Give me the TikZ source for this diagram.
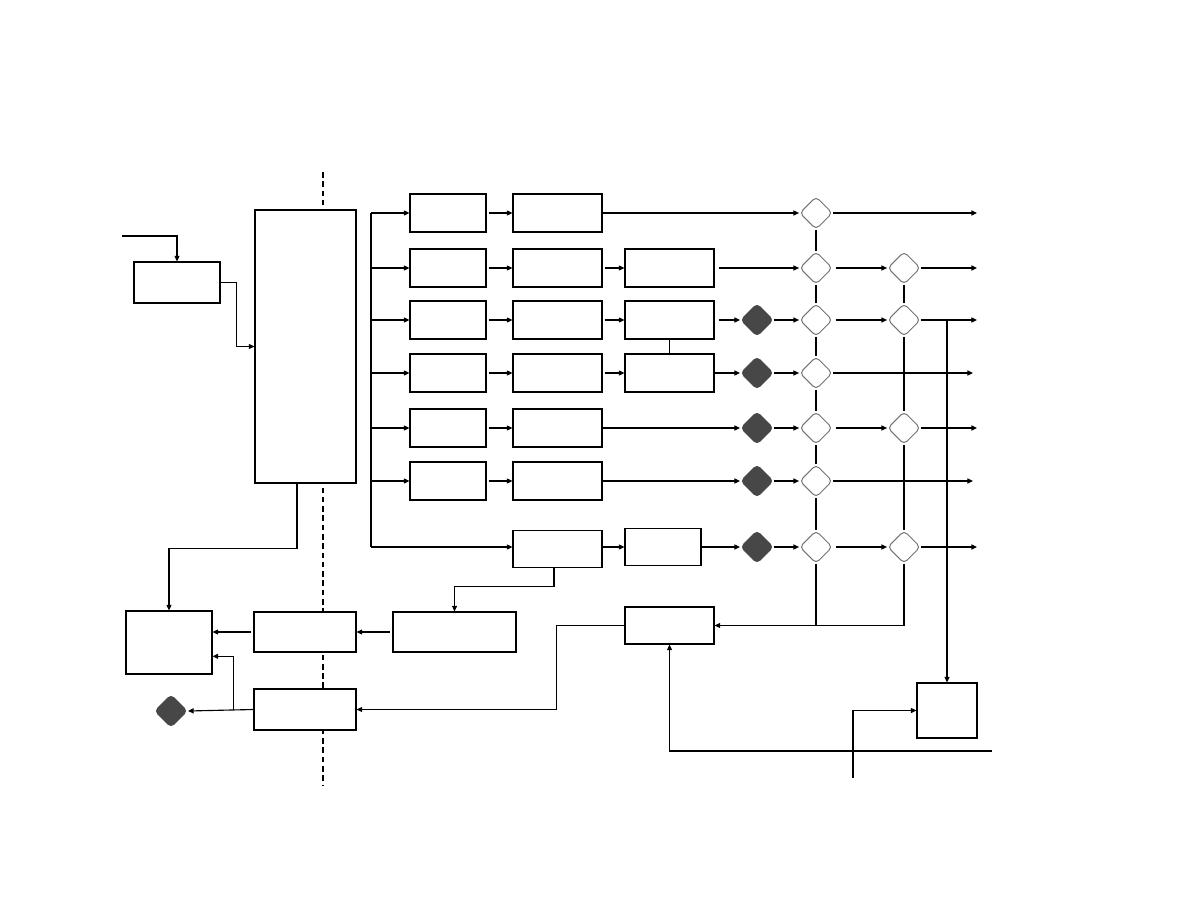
\documentclass[tikz,border=0pt]{standalone}
\usetikzlibrary{arrows.meta,shapes.geometric,calc}
\begin{document}
\begin{tikzpicture}[x=0.025cm, y=-0.025cm, line width=0.8pt,
  >={Triangle[length=4pt,width=3.6pt]},
  blk/.style={draw, rectangle, fill=white, inner sep=0pt},
  wdia/.style={draw=black!55, line width=0.7pt, fill=white, diamond, inner sep=0pt, minimum width=0.82cm, minimum height=0.82cm, rounded corners=3pt},
  kdia/.style={draw=black!72, fill=black!72, diamond, inner sep=0pt, minimum width=0.82cm, minimum height=0.82cm, rounded corners=3pt},
  divider/.style={line width=2pt, dash pattern=on 4pt off 2.6pt},
  gap/.style={shorten <=1.5pt}]

\useasboundingbox (0,0) rectangle (1188,918);

% Trennlinie
\coordinate (sepTop) at (323,172);
\coordinate (sepBot) at (323,785);
\draw[divider] (sepTop) -- (sepBot);

% Bloecke links
\node[blk, minimum width=2.15cm, minimum height=1.025cm] (src) at (177,282.5) {};
\node[blk, minimum width=2.525cm, minimum height=6.825cm] (main) at (305.5,346.5) {};
\node[blk, minimum width=2.15cm, minimum height=1.575cm] (sink) at (169,642.5) {};
\node[blk, minimum width=2.55cm, minimum height=1.0cm] (mid) at (305,632) {};
\node[blk, minimum width=2.55cm, minimum height=1.025cm] (ret) at (305,709.5) {};
\node[blk, minimum width=3.075cm, minimum height=1.0cm] (buf) at (454.5,632) {};
\node[kdia] (ldia) at (171,711) {};

% Zweige
\foreach \i/\y in {1/213,2/268,3/320,4/373,5/428,6/481} {
  \node[blk, minimum width=1.9cm, minimum height=0.95cm] (C\i) at (448,\y) {};
  \node[blk, minimum width=2.225cm, minimum height=0.95cm] (D\i) at (557.5,\y) {};
}
\foreach \i/\y in {2/268,3/320,4/373}
  \node[blk, minimum width=2.225cm, minimum height=0.95cm] (E\i) at (669.5,\y) {};
\node[blk, minimum width=2.225cm, minimum height=0.925cm] (D7) at (557.5,549) {};
\node[blk, minimum width=1.9cm, minimum height=0.925cm] (E7) at (663,547) {};

% Rauten
\foreach \i/\y in {3/320,4/373,5/428,6/481,7/547}
  \node[kdia] (k\i) at (757,\y) {};
\foreach \i/\y in {1/213,2/268,3/320,4/373,5/428,6/481,7/547}
  \node[wdia] (W\i) at (816,\y) {};
\foreach \i/\y in {2/268,3/320,5/428,7/547}
  \node[wdia] (V\i) at (904,\y) {};

% Bloecke rechts unten
\node[blk, minimum width=2.225cm, minimum height=0.925cm] (mix) at (669.5,625.5) {};
\node[blk, minimum width=1.5cm, minimum height=1.375cm] (tap) at (947,710.5) {};

% Eingang
\coordinate (in) at (122,236);
\draw[->] (in) -| (src.north);
\draw[->] (src.east) -- ++(16,0) |- (main.west);

% Verteiler
\coordinate (bus) at (371,0);
\draw (bus |- C1) -- (bus |- E7);
\foreach \i in {1,...,6} {
  \draw[->] (bus |- C\i) -- (C\i.west);
  \draw[->, gap] (C\i.east) -- (D\i.west);
}
\draw[->] (bus |- E7) -- (D7.west |- E7);
\foreach \i in {2,3,4}
  \draw[->, gap] (D\i.east) -- (E\i.west);
\draw[->] (D7.east |- E7) -- (E7.west);
\draw (E3.south) -- (E4.north);

% zu den Rauten
\draw[->] (D1.east) -- (W1.west);
\draw[->, shorten <=3pt] (E2.east) -- (W2.west);
\draw[->, shorten <=3pt] (E3.east) -- (k3.west);
\draw[->] (E4.east) -- (k4.west);
\draw[->] (D5.east) -- (k5.west);
\draw[->] (D6.east) -- (k6.west);
\draw[->] (E7.east) -- (k7.west);
\foreach \i in {3,...,7}
  \draw[->] (k\i.east) -- (W\i.west);

% Sammelleitungen
\foreach \i/\j in {1/2,2/3,3/4,4/5,5/6,6/7}
  \draw (W\i.south) -- (W\j.north);
\draw (V2.south) -- (V3.north);
\draw (V3.south) -- (V5.north);
\draw (V5.south) -- (V7.north);
\draw (W7.south) -- (W7 |- mix);
\draw[->] (V7.south) |- (mix.east);

% Ausgaenge
\coordinate (o) at (977,0);
\coordinate (o2) at (973,0);
\foreach \i in {2,3,5,7} {
  \draw[->, shorten <=2pt] (W\i.east) -- (V\i.west);
  \draw[->] (V\i.east) -- (o |- V\i);
}
\draw[->] (W1.east) -- (o |- W1);
\draw[->] (W4.east) -- (o2 |- W4);
\draw[->] (W6.east) -- (o2 |- W6);
\draw[->] (tap.north |- V3) -- (tap.north);

% unten rechts
\coordinate (gin) at (853,778);
\coordinate (fin) at (992,751);
\draw[->] (gin) |- (tap.west);
\draw[->] (fin) -| (mix.south);
\draw[->] (mix.west) -- ++(-68,0) |- (ret.east);

% Rueckweg links
\draw[->] ($(D7.south)+(-3.5,0)$) -- ++(0,18) -| (buf.north);
\draw[->, shorten <=2pt] (buf.west) -- (buf.west -| mid.east);
\draw[->, shorten <=2pt] (mid.west) -- (mid.west -| sink.east);
\draw[->] ($(main.south)+(-8.5,0)$) -- ++(0,65) -| (sink.north);
\draw[->] (ret.west) -- (ldia.east);
\draw[->] ($(ret.west)+(-20,0)$) |- ($(sink.east)!0.43!(sink.south east)$);

\end{tikzpicture}
\end{document}
